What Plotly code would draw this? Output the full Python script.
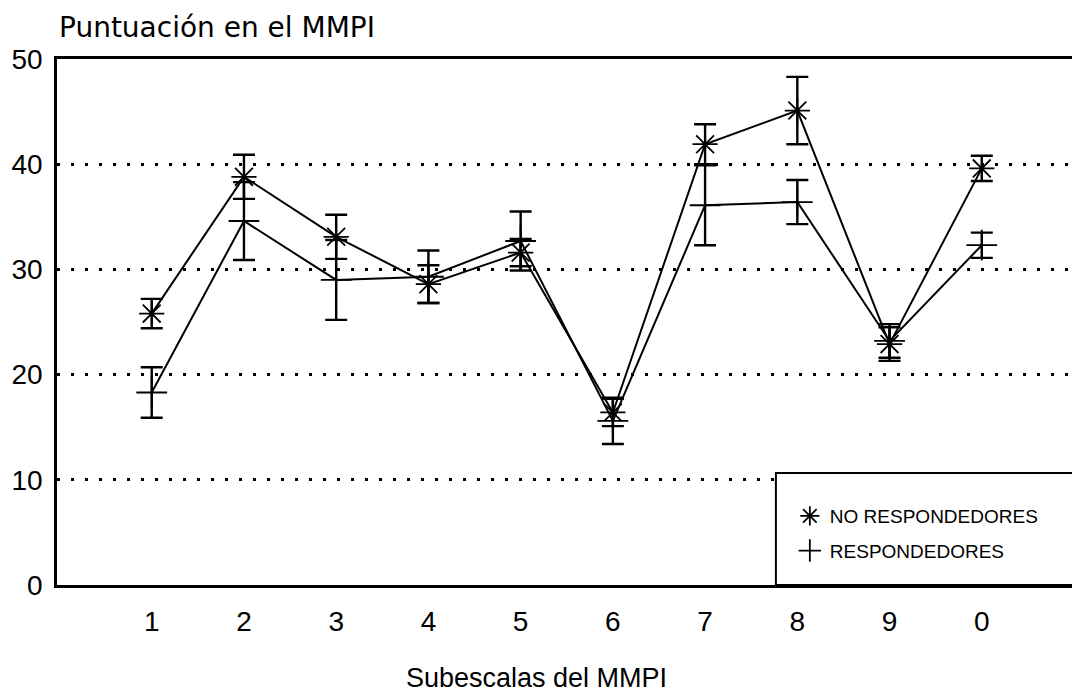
import plotly.graph_objects as go

# ---- data ----
subscales = ["1", "2", "3", "4", "5", "6", "7", "8", "9", "0"]
nr_mean = [25.8, 38.8, 33.1, 28.6, 31.6, 16.4, 41.9, 45.1, 22.9, 39.6]
nr_err = [1.4, 2.1, 2.1, 1.8, 1.3, 1.3, 1.9, 3.2, 1.6, 1.2]
r_mean = [18.3, 34.6, 29.0, 29.3, 32.7, 15.6, 36.1, 36.4, 23.2, 32.3]
r_err = [2.4, 3.7, 3.8, 2.5, 2.8, 2.2, 3.8, 2.1, 1.6, 1.2]
y_ticks = [0, 10, 20, 30, 40, 50]

series_names = ["NO RESPONDEDORES", "RESPONDEDORES"]

FONT = "Liberation Sans, Arial, sans-serif"
TFONT = "DejaVu Sans, Liberation Sans, sans-serif"

# page has an 8px body margin; work in screen pixels and convert
OFF = 8
W, H = 1080 - OFF, 697 - OFF
# screen-pixel plot box
SX0, SX1, SY0, SY1 = 57, 1080, 59, 585
L, R, T, B = SX0 - OFF, 0, SY0 - OFF, H - (SY1 - OFF)

xpos = list(range(len(subscales)))
X0_PX, DX_PX = 152, 92.5   # screen x of first category, spacing

fig = go.Figure()

fig.add_trace(go.Scatter(
    x=xpos, y=nr_mean, mode="lines+markers", name=series_names[0],
    showlegend=False,
    line=dict(color="black", width=2),
    marker=dict(symbol="asterisk-open", size=21, color="black",
                line=dict(color="black", width=1.8)),
    error_y=dict(type="data", array=nr_err, visible=True, color="black",
                 thickness=2.4, width=11),
))
fig.add_trace(go.Scatter(
    x=xpos, y=r_mean, mode="lines+markers", name=series_names[1],
    showlegend=False,
    line=dict(color="black", width=2),
    marker=dict(symbol="cross-thin-open", size=22, color="black",
                line=dict(color="black", width=1.8)),
    error_y=dict(type="data", array=r_err, visible=True, color="black",
                 thickness=2.4, width=11),
))

# legend entries (markers only)
fig.add_trace(go.Scatter(
    x=[None], y=[None], mode="markers", name=series_names[0],
    legendgroup="a",
    marker=dict(symbol="asterisk-open", size=21, color="black",
                line=dict(color="black", width=1.8)),
))
fig.add_trace(go.Scatter(
    x=[None], y=[None], mode="markers", name=series_names[1],
    legendgroup="b",
    marker=dict(symbol="cross-thin-open", size=26, color="black",
                line=dict(color="black", width=1.8)),
))

pw = W - L - R
ph = H - T - B

def px_x(sp):
    return (sp - SX0) / pw

def px_y(sp):
    return (SY1 - sp) / ph

# legend box
fig.add_shape(type="rect", xref="paper", yref="paper",
              x0=px_x(778), x1=1.01, y0=0, y1=px_y(473),
              line=dict(color="black", width=2), fillcolor="white",
              layer="above")

fig.update_layout(
    width=W, height=H,
    margin=dict(l=L, r=R, t=T, b=B),
    paper_bgcolor="white", plot_bgcolor="white",
    font=dict(family=FONT, color="black", size=28),
    title=dict(text="Puntuación en el MMPI", x=(59 - OFF) / W, xanchor="left",
               xref="container", y=1 - (27 - OFF) / H, yanchor="middle",
               yref="container",
               font=dict(family=TFONT, size=28, color="black")),
    showlegend=True,
    legend=dict(x=px_x(792), xanchor="left", y=px_y(497), yanchor="top",
                bgcolor="rgba(0,0,0,0)", borderwidth=0,
                font=dict(family=FONT, size=19, color="black"),
                traceorder="grouped", tracegroupgap=7,
                itemwidth=30),
    xaxis=dict(range=[(SX0 - X0_PX) / DX_PX, (SX1 - X0_PX) / DX_PX],
               tickmode="array", tickvals=xpos, ticktext=subscales,
               showgrid=False, zeroline=False,
               showline=True, linecolor="black", linewidth=2.5, mirror=True,
               ticks="", ticklabelstandoff=10,
               tickfont=dict(family=FONT, size=28, color="black")),
    yaxis=dict(range=[0, 50], tickmode="array", tickvals=y_ticks,
               showgrid=True, gridcolor="black", gridwidth=3,
               griddash="3px,11px",
               zeroline=False,
               showline=True, linecolor="black", linewidth=2.5, mirror=True,
               ticks="", ticklabelstandoff=6,
               tickfont=dict(family=FONT, size=28, color="black")),
    annotations=[dict(text="Subescalas del MMPI", xref="paper", yref="paper",
                      x=px_x(405), xanchor="left", y=px_y(678),
                      yanchor="middle", showarrow=False,
                      font=dict(family=FONT, size=27, color="black"))],
)

fig.write_html("out.html")
